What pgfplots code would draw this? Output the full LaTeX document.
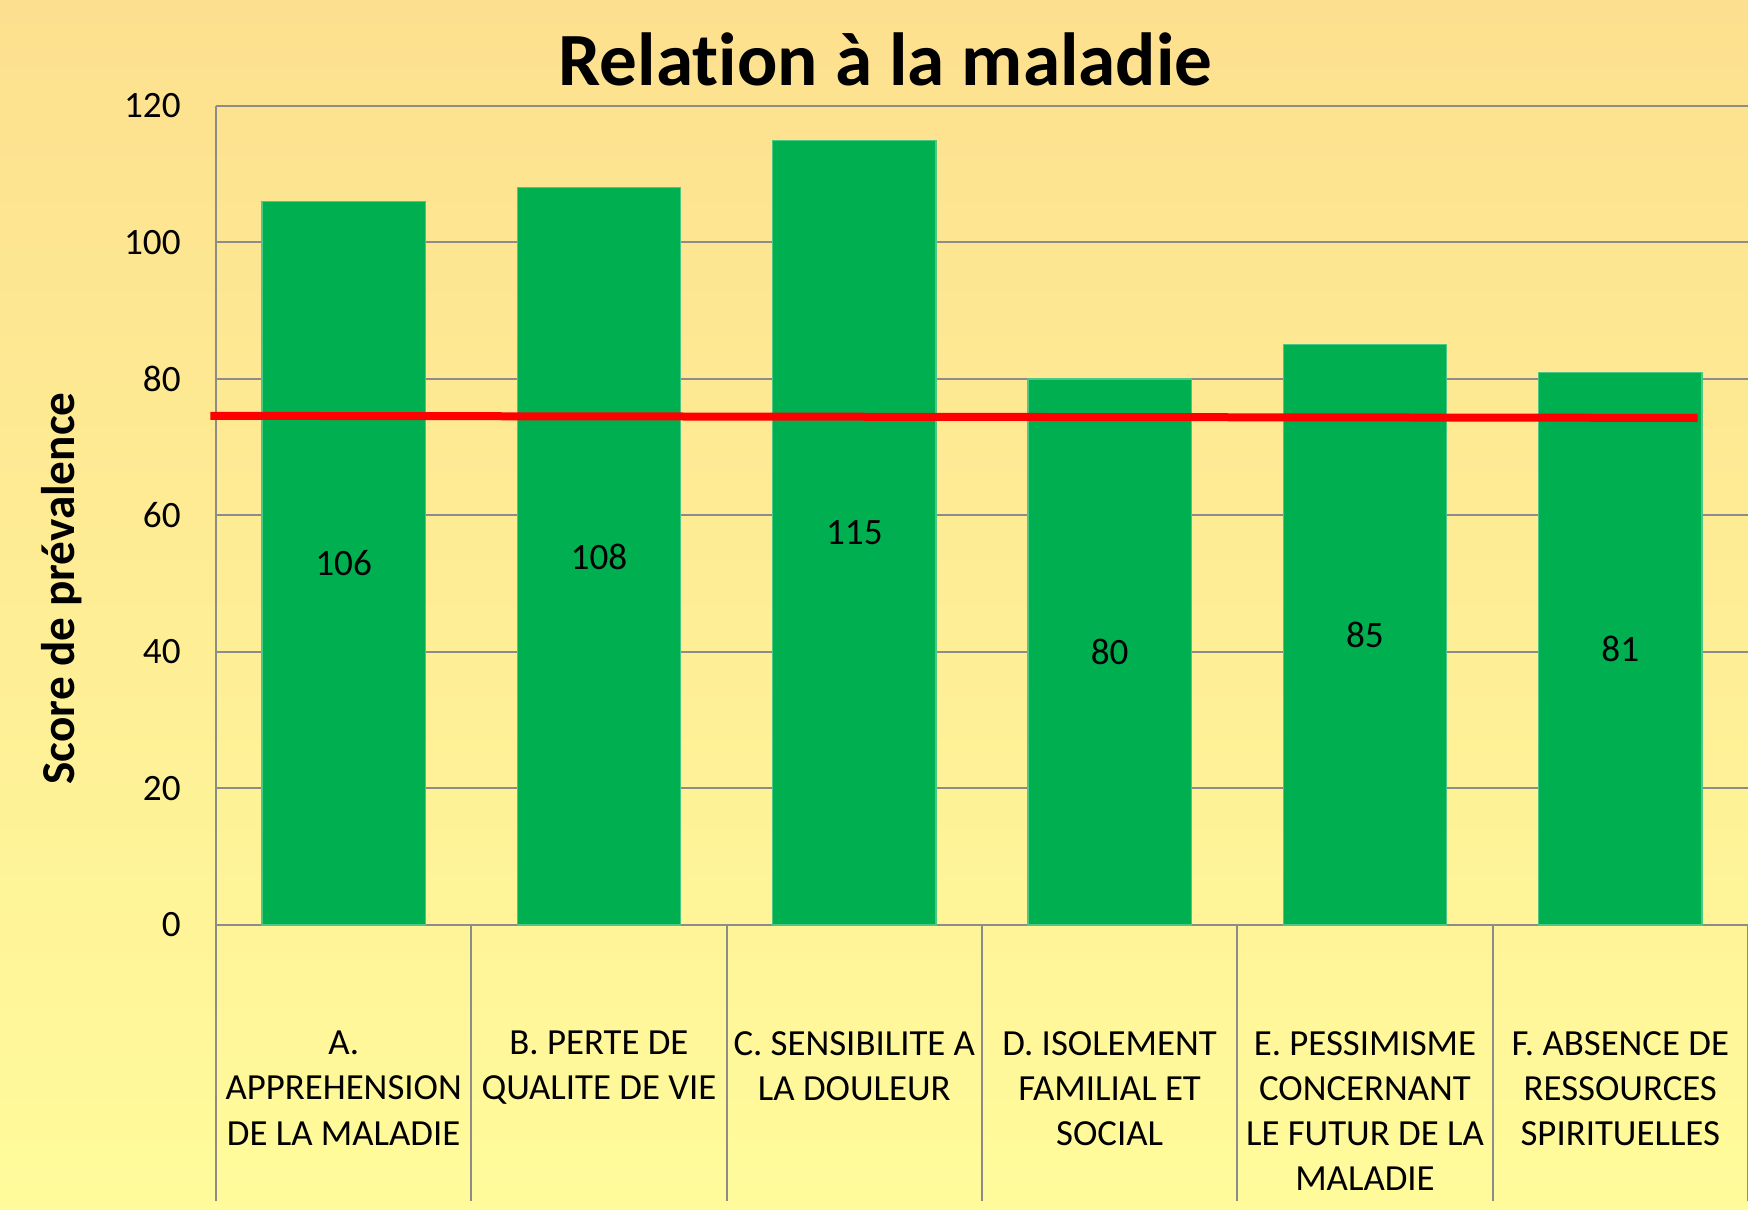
\documentclass[border=0pt]{standalone}
\usepackage{pgfplots}
\pgfplotsset{compat=1.18}
\usepackage{fontspec}
\setmainfont{Carlito}[Ligatures=NoCommon]
\definecolor{barGreen}{HTML}{00AF50}
\definecolor{lineRed}{HTML}{FF0000}
\definecolor{gridGray}{HTML}{8C8C8C}
\definecolor{bgTop}{HTML}{FDE08F}
\definecolor{bgBottom}{HTML}{FFFB9B}

\begin{document}
\begin{tikzpicture}
% page background, 1748x1210 px at 4 px per pt
\shade[top color=bgTop, bottom color=bgBottom] (0,0) rectangle (437pt,302.5pt);
\begin{axis}[
    at={(54pt,71.25pt)}, anchor=south west,
    scale only axis, width=383pt, height=204.75pt,
    xmin=-0.5, xmax=5.5, ymin=0, ymax=120,
    clip=false,
    axis x line*=bottom, axis y line*=left,
    axis line style={gridGray, line width=0.5pt},
    ymajorgrids, grid style={gridGray, line width=0.5pt},
    ytick={0,20,...,120},
    major tick length=0pt,
    tick style={gridGray, line width=0.5pt},
    /pgf/number format/assume math mode=true,
    yticklabel style={font=\fontsize{9.3}{11}\selectfont, xshift=-5.3pt},
    xtick={0,...,5},
    xticklabels={{A.\\APPREHENSION\\DE LA MALADIE},
                 {B. PERTE DE\\QUALITE DE VIE},
                 {C. SENSIBILITE A\\LA DOULEUR},
                 {D. ISOLEMENT\\FAMILIAL ET\\SOCIAL},
                 {E. PESSIMISME\\CONCERNANT\\LE FUTUR DE LA\\MALADIE},
                 {F. ABSENCE DE\\RESSOURCES\\SPIRITUELLES}},
    xticklabel style={align=center, anchor=north, yshift=-23pt,
                      font=\fontsize{9.2}{11.3}\selectfont},
    extra x ticks={-0.5,0.5,1.5,2.5,3.5,4.5,5.5},
    extra x tick labels={},
    extra x tick style={grid=none, tick align=outside, major tick length=69pt},
    ylabel={Score de prévalence},
    ylabel style={at={(axis description cs:-0.101,0.411)}, anchor=center,
                  font=\fontsize{11.8}{14}\selectfont\bfseries},
    title={Relation à la maladie},
    title style={at={(axis description cs:0.437,1.027)}, anchor=center,
                 font=\fontsize{18.8}{23}\selectfont\bfseries},
  ]
  \addplot[ybar, bar width=0.64, fill=barGreen, draw=barGreen!70!white, line width=0.3pt,
           nodes near coords,
           visualization depends on=rawy\as\rawy,
           every node near coord/.append style={anchor=center, text=black,
               font=\fontsize{9.3}{11}\selectfont,
               shift={(axis direction cs:0,-\rawy/2)}}]
    coordinates {(0,106) (1,108) (2,115) (3,80) (4,85) (5,81)};
  \addplot[lineRed, line width=2pt] coordinates {(-0.522,74.6) (5.303,74.3)};
\end{axis}
\pgfresetboundingbox
\useasboundingbox (0,0) rectangle (437pt,302.5pt);
\end{tikzpicture}
\end{document}
